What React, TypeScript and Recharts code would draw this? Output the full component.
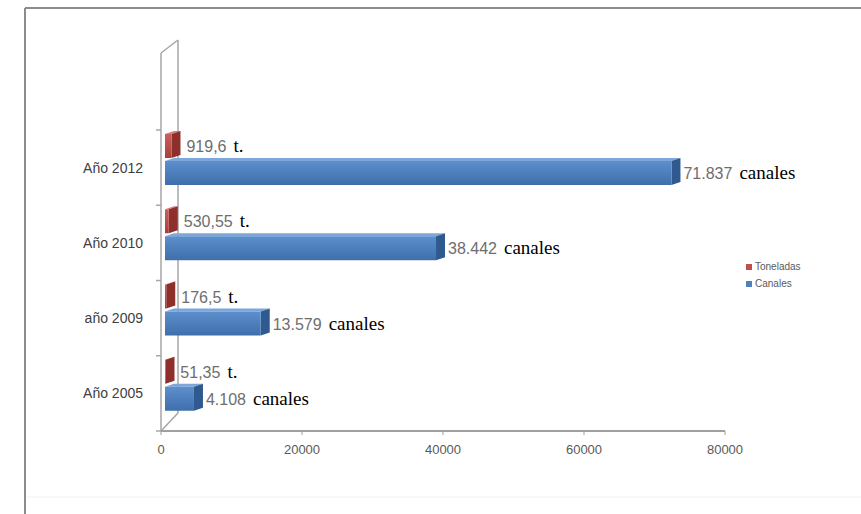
import React from 'react';
import { BarChart, Bar, XAxis, YAxis, Legend, LabelList } from 'recharts';

// categories top to bottom
const categories = ['Año 2012', 'Año 2010', 'año 2009', 'Año 2005'];
const toneladas = [919.6, 530.55, 176.5, 51.35];
const canales = [71837, 38442, 13579, 4108];
const xTicks = [0, 20000, 40000, 60000, 80000];

const data = categories.map((name, i) => ({
  name,
  toneladas: toneladas[i],
  canales: canales[i],
}));

const W = 861;
const H = 514;
const PLOT_LEFT = 161;
const PLOT_RIGHT = 725;
const PLOT_TOP = 130;
const PLOT_BOTTOM = 431;
const BAND = (PLOT_BOTTOM - PLOT_TOP) / categories.length;

// fake 3D: front face nudged right/up, plus a top and a side face
const SHIFT_X = 4;
const SHIFT_Y = -8;
const DEPTH_X = 9;
const DEPTH_Y = 3;

const SANS = '"Liberation Sans", Arial, sans-serif';
const SERIF = '"Liberation Serif", "Times New Roman", serif';

const fmtCanales = (v: number) => String(v).replace(/\B(?=(\d{3})+(?!\d))/g, '.');
const fmtTon = (v: number) => String(v).replace('.', ',');

const box = (p: any) => {
  const vb = p.viewBox || {};
  return {
    x: Number(p.x ?? vb.x),
    y: Number(p.y ?? vb.y),
    width: Number(p.width ?? vb.width),
    height: Number(p.height ?? vb.height),
  };
};

const make3DBar = (top: string, side: string, grad: string) => (props: any) => {
  const { x, y, width, height } = box(props);
  const fx = x + SHIFT_X;
  const fy = y + SHIFT_Y;
  const w = Math.max(width, 0.5);
  const h = height;
  return (
    <g>
      <polygon
        points={`${fx},${fy} ${fx + DEPTH_X},${fy - DEPTH_Y} ${fx + w + DEPTH_X},${fy - DEPTH_Y} ${fx + w},${fy}`}
        fill={top}
      />
      <polygon
        points={`${fx + w},${fy} ${fx + w + DEPTH_X},${fy - DEPTH_Y} ${fx + w + DEPTH_X},${fy + h - DEPTH_Y} ${fx + w},${fy + h}`}
        fill={side}
      />
      <rect x={fx} y={fy} width={w} height={h} fill={`url(#${grad})`} />
    </g>
  );
};

const makeLabel = (fmt: (v: number) => string, unit: string, gap: number) => (props: any) => {
  const { x, y, width, height } = box(props);
  const tx = x + width + SHIFT_X + DEPTH_X + gap;
  const ty = y + SHIFT_Y + height / 2 + 6;
  return (
    <text x={tx} y={ty}>
      <tspan fill="#6e6e6e" fontFamily={SANS} fontSize={16}>{fmt(Number(props.value))}</tspan>
      <tspan dx={7} fill="#000" fontFamily={SERIF} fontSize={19}>{unit}</tspan>
    </text>
  );
};

const legendItems = [
  { label: 'Toneladas', color: '#c0504d' },
  { label: 'Canales', color: '#4f81bd' },
];

const renderLegend = () => (
  <div style={{ fontFamily: SANS, fontSize: 10, color: '#595959', lineHeight: '17px' }}>
    {legendItems.map((it) => (
      <div key={it.label} style={{ display: 'flex', alignItems: 'center' }}>
        <span style={{ width: 6, height: 6, background: it.color, marginRight: 3, display: 'inline-block' }} />
        {it.label}
      </div>
    ))}
  </div>
);

// back wall, floor edge and band ticks of the category axis
const Frame = () => {
  const boundaries = Array.from({ length: categories.length + 1 }, (_, i) => PLOT_TOP + i * BAND);
  return (
    <svg width={W} height={H} style={{ position: 'absolute', left: 0, top: 0 }}>
      <line x1={25} y1={8} x2={W} y2={8} stroke="#8c8c8c" strokeWidth={2} />
      <line x1={25} y1={8} x2={25} y2={H} stroke="#8c8c8c" strokeWidth={2} />
      <line x1={27} y1={497} x2={W} y2={497} stroke="#f0f0f0" strokeWidth={1} />
      <g stroke="#a6a6a6" strokeWidth={1.5} fill="none">
        <line x1={PLOT_LEFT} y1={53} x2={PLOT_LEFT} y2={PLOT_BOTTOM} />
        <line x1={178} y1={40} x2={178} y2={413} />
        <line x1={PLOT_LEFT} y1={53} x2={178} y2={40} />
        <line x1={PLOT_LEFT} y1={PLOT_BOTTOM} x2={178} y2={413} />
        {boundaries.map((b) => (
          <line key={b} x1={PLOT_LEFT - 5} y1={b} x2={PLOT_LEFT} y2={b} />
        ))}
      </g>
    </svg>
  );
};

export default function App() {
  return (
    <div style={{ position: 'absolute', left: 0, top: 0, width: W, height: H, background: '#fff' }}>
      <Frame />
      <div style={{ position: 'absolute', left: 0, top: 0 }}>
        <BarChart
          width={W}
          height={H}
          data={data}
          layout="vertical"
          margin={{ top: PLOT_TOP, right: W - PLOT_RIGHT, bottom: H - PLOT_BOTTOM - 30, left: 0 }}
          barSize={24}
          barGap={3}
        >
          <defs>
            <linearGradient id="gradBlue" x1="0" y1="0" x2="0" y2="1">
              <stop offset="0%" stopColor="#5d8fce" />
              <stop offset="100%" stopColor="#3f6fab" />
            </linearGradient>
            <linearGradient id="gradRed" x1="0" y1="0" x2="0" y2="1">
              <stop offset="0%" stopColor="#c9605c" />
              <stop offset="100%" stopColor="#a8403d" />
            </linearGradient>
          </defs>
          <XAxis
            type="number"
            domain={[0, 80000]}
            ticks={xTicks}
            height={30}
            axisLine={{ stroke: '#a0a0a0', strokeWidth: 2 }}
            tickLine={{ stroke: '#a0a0a0' }}
            tickSize={4}
            tickMargin={10}
            tick={{ fill: '#595959', fontFamily: SANS, fontSize: 13 }}
          />
          <YAxis
            type="category"
            dataKey="name"
            width={PLOT_LEFT}
            axisLine={false}
            tickLine={false}
            tickMargin={12}
            tick={{ fill: '#404040', fontFamily: SANS, fontSize: 14 }}
          />
          <Legend
            align="center"
            verticalAlign="middle"
            wrapperStyle={{ left: 746, top: 258, width: 90 }}
            content={renderLegend}
          />
          <Bar
            dataKey="toneladas"
            name="Toneladas"
            fill="#c0504d"
            isAnimationActive={false}
            shape={make3DBar('#d77f7c', '#8e2f2c', 'gradRed')}
          >
            <LabelList dataKey="toneladas" content={makeLabel(fmtTon, 't.', 6)} />
          </Bar>
          <Bar
            dataKey="canales"
            name="Canales"
            fill="#4f81bd"
            isAnimationActive={false}
            shape={make3DBar('#7da6d9', '#2e5a90', 'gradBlue')}
          >
            <LabelList dataKey="canales" content={makeLabel(fmtCanales, 'canales', 3)} />
          </Bar>
        </BarChart>
      </div>
    </div>
  );
}
